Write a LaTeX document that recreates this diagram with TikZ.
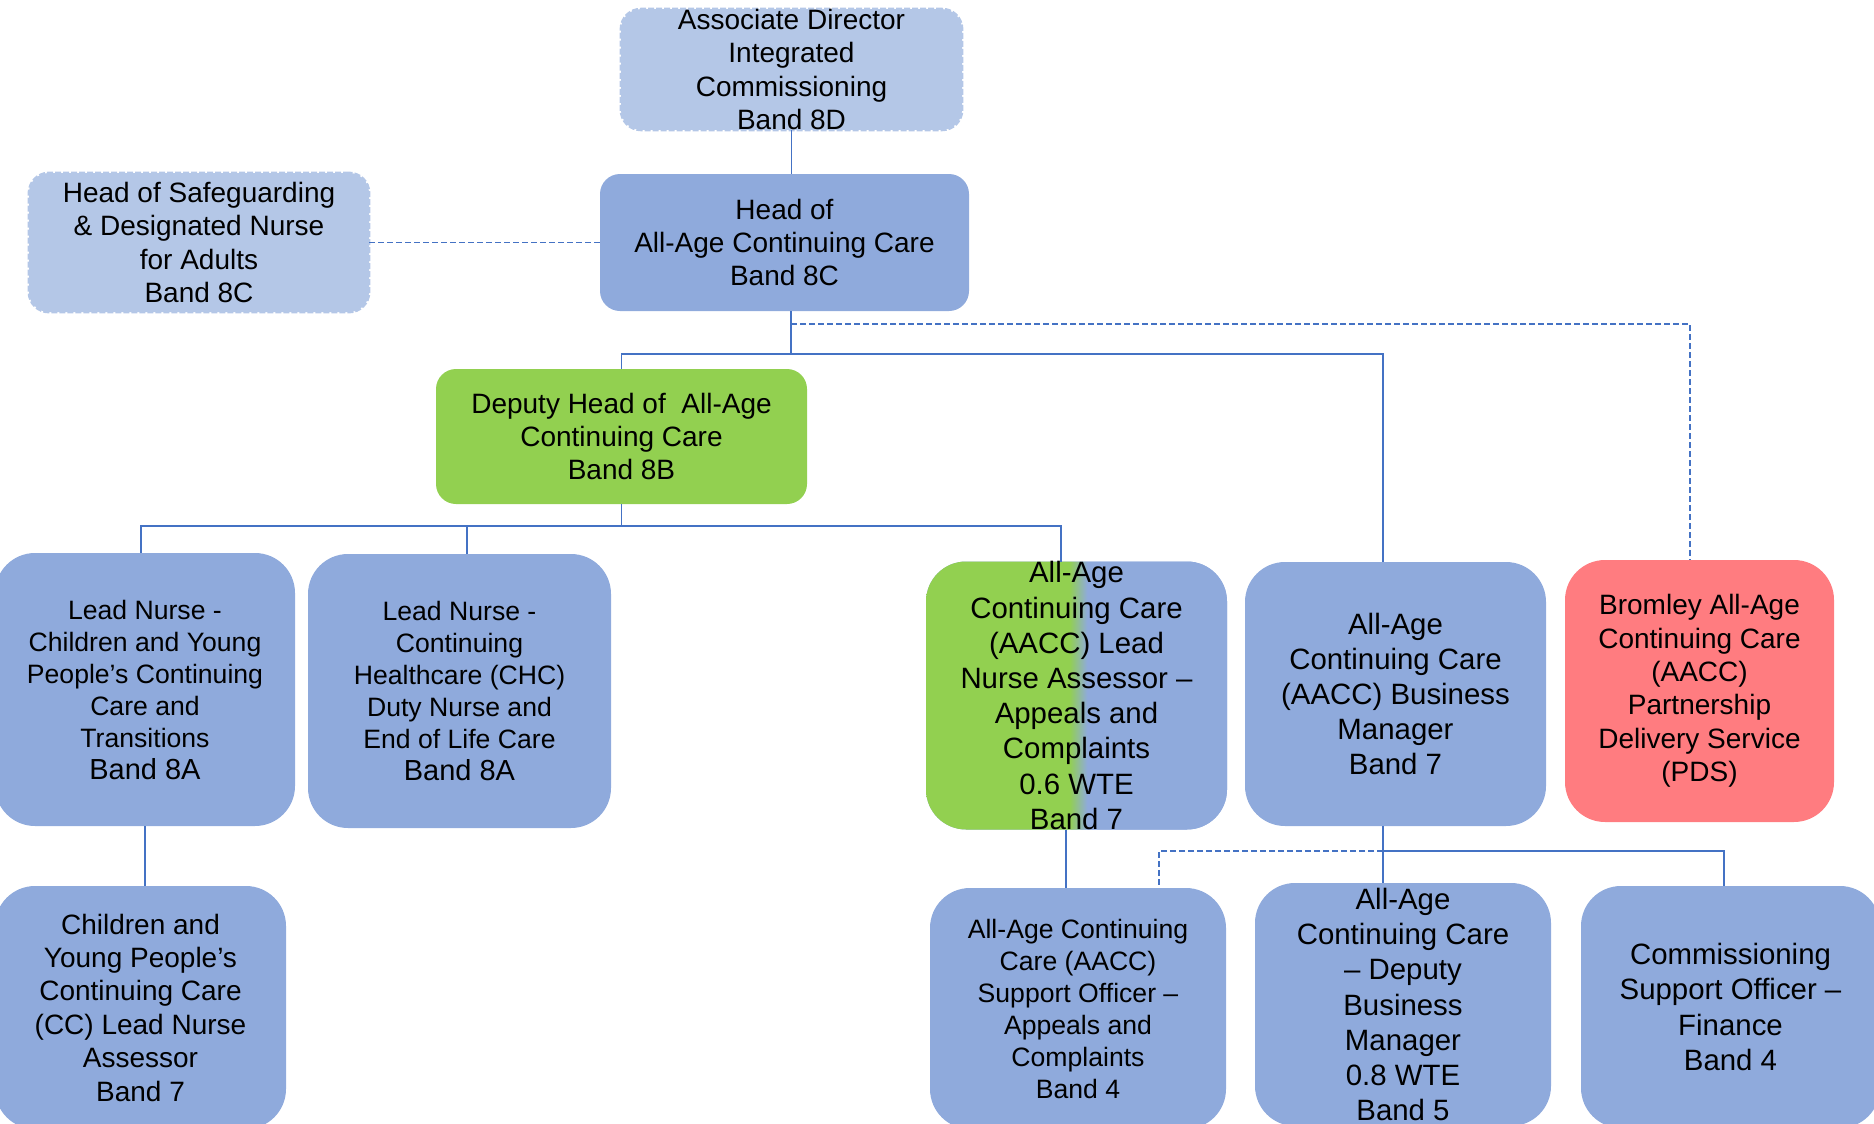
\documentclass[tikz,border=0pt]{standalone}
\usepackage{fontspec}
\setmainfont{Liberation Sans}
\usepackage{tikz}
\usetikzlibrary{calc}
\definecolor{paleblue}{HTML}{B4C7E7}
\definecolor{roleblue}{HTML}{8FAADC}
\definecolor{rolegreen}{HTML}{92D050}
\definecolor{rolered}{HTML}{FF7C80}
\definecolor{linkblue}{HTML}{4472C4}
\pgfdeclarehorizontalshading{halfgreen}{100bp}{color(0bp)=(rolegreen); color(48.8bp)=(rolegreen); color(51.8bp)=(roleblue); color(100bp)=(roleblue)}
\newcommand{\stdsize}{\fontsize{14}{16.7}\selectfont}
\newcommand{\widesize}{\fontsize{14.7}{17.6}\selectfont}
\newcommand{\narrowsize}{\fontsize{13.3}{16}\selectfont}
\tikzset{
  role/.style={inner sep=0pt,outer sep=0pt,align=center,text=black,rounded corners=20pt,fill=roleblue,font=\widesize},
  topbox/.style={role,rounded corners=10pt,font=\stdsize},
  palebox/.style={topbox,fill=paleblue,draw=paleblue,line width=1.4pt,dash pattern=on 3pt off 1pt},
  linkline/.style={draw=linkblue,line width=0.6pt},
  dashlink/.style={linkline,dash pattern=on 3pt off 1.5pt}
}

\begin{document}
\begin{tikzpicture}[x=0.5pt,y=-0.5pt]
    \useasboundingbox (0,0) rectangle (1874,1124);
    \clip (0,0) rectangle (1874,1124);
    % upper levels
    \node[palebox,minimum width=170.5pt,minimum height=59.5pt] (assoc) at (791.5,69.5) {Associate Director\\Integrated\\Commissioning\\Band 8D};
    \node[palebox,minimum width=170pt,minimum height=69.5pt] (safe) at (199,242.5) {Head of Safeguarding\\\& Designated Nurse\\for Adults\\Band 8C};
    \node[topbox,minimum width=184.5pt,minimum height=68.5pt] (head) at (784.5,242.5) {Head of\\All-Age Continuing Care\\Band 8C};
    \node[topbox,fill=rolegreen,minimum width=185.5pt,minimum height=67.5pt] (deputy) at (621.5,436.5) {Deputy Head of\ \ All-Age\\Continuing Care\\Band 8B};
    % middle row
    \node[role,font=\narrowsize,minimum width=150pt,minimum height=136.5pt] (cyplead) at (145,689.5) {Lead Nurse -\\Children and Young\\People’s Continuing\\Care and\\Transitions\\{\fontsize{14.5}{17.4}\selectfont Band 8A}};
    \node[role,font=\narrowsize,minimum width=151.5pt,minimum height=137pt] (chc) at (459.5,691) {Lead Nurse -\\Continuing\\Healthcare (CHC)\\Duty Nurse and\\End of Life Care\\{\fontsize{14.5}{17.4}\selectfont Band 8A}};
    \node[role,shading=halfgreen,minimum width=150.5pt,minimum height=132.5pt] (leadass) at (1076.5,695.5) {All-Age\\Continuing Care\\(AACC) Lead\\Nurse Assessor –\\Appeals and\\Complaints\\0.6 WTE\\Band 7};
    \node[role,minimum width=150.5pt,minimum height=132pt] (bman) at (1395.5,694) {All-Age\\Continuing Care\\(AACC) Business\\Manager\\Band 7};
    \node[role,fill=rolered,font=\stdsize,minimum width=134.5pt,minimum height=131pt] (pds) at (1699.5,691) {Bromley All-Age\\Continuing Care\\(AACC)\\Partnership\\Delivery Service\\(PDS)};
    % bottom row
    \node[role,font=\stdsize,minimum width=145.5pt,minimum height=121.5pt] (cyccl) at (140.5,1007.5) {Children and\\Young People’s\\Continuing Care\\(CC) Lead Nurse\\Assessor\\Band 7};
    \node[role,font=\narrowsize,minimum width=148pt,minimum height=120.5pt] (support) at (1078,1008.5) {All-Age Continuing\\Care (AACC)\\Support Officer –\\Appeals and\\Complaints\\Band 4};
    \node[role,minimum width=148pt,minimum height=121.5pt] (dbm) at (1403,1004.5) {All-Age\\Continuing Care\\– Deputy\\Business\\Manager\\0.8 WTE\\Band 5};
    \node[role,minimum width=149.5pt,minimum height=121pt] (commis) at (1730.5,1007) {Commissioning\\Support Officer –\\Finance\\Band 4};

    % junctions
    \coordinate (hjoin) at (791,354);
    \coordinate (pjoin) at (791,324);
    \coordinate (djoin) at (620,526);
    \coordinate (bjoin) at (1383,851);

    % connectors
    \draw[linkline] (assoc.south) -- (assoc.south |- head.north);
    \draw[dashlink] (safe.east) -- (head.west);
    \draw[linkline] (hjoin |- head.south) -- (hjoin);
    \draw[linkline] (deputy.north) |- (hjoin) -| ([xshift=-6.25pt]bman.north);
    \draw[dashlink] (pjoin) -| ([xshift=-4.75pt]pds.north);
    \draw[linkline] (deputy.south) -- (deputy.south |- djoin);
    \draw[linkline] ([xshift=-2pt]cyplead.north) |- ([xshift=-7.75pt]leadass.north |- djoin) -- ([xshift=-7.75pt]leadass.north);
    \draw[linkline] ([xshift=3.75pt]chc.north) -- ([xshift=3.75pt]chc.north |- djoin);
    \draw[linkline] (cyplead.south) -- (cyplead.south |- cyccl.north);
    \draw[linkline] ([xshift=-5.25pt]leadass.south) -- ([xshift=-5.25pt]leadass.south |- support.north);
    \draw[linkline] (bjoin |- bman.south) -- (bjoin |- dbm.north);
    \draw[linkline] (bjoin) -| ([xshift=-3.25pt]commis.north);
    \draw[dashlink] (bjoin) -| ([xshift=40.5pt]support.north);
\end{tikzpicture}
\end{document}
